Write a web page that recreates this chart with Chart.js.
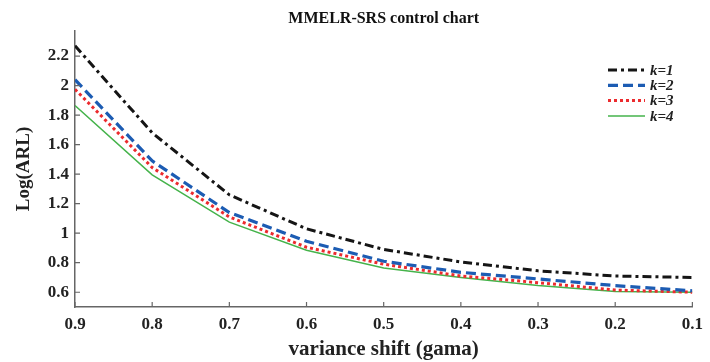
<!DOCTYPE html>
<html>
<head>
<meta charset="utf-8">
<script src="https://cdn.jsdelivr.net/npm/chart.js@4"></script>
<style>
  html, body { margin: 0; padding: 0; background: #fff; }
  #wrap { width: 710px; height: 362px; }
</style>
</head>
<body>
<div id="wrap"><canvas id="myChart" width="710" height="362"></canvas></div>
<script>
// variance shift values (x axis, drawn reversed)
const gamma = [0.9, 0.8, 0.7, 0.6, 0.5, 0.4, 0.3, 0.2, 0.1];
// Log(ARL) for each k
const k1 = [2.27, 1.68, 1.26, 1.03, 0.89, 0.805, 0.745, 0.71, 0.70];
const k2 = [2.04, 1.49, 1.14, 0.945, 0.81, 0.735, 0.69, 0.645, 0.61];
const k3 = [1.975, 1.445, 1.11, 0.905, 0.79, 0.71, 0.665, 0.615, 0.60];
const k4 = [1.865, 1.395, 1.075, 0.885, 0.765, 0.70, 0.645, 0.605, 0.60];
const seriesNames = ['k=1', 'k=2', 'k=3', 'k=4'];
const yTicks = [0.6, 0.8, 1, 1.2, 1.4, 1.6, 1.8, 2, 2.2];
const chartTitle = 'MMELR-SRS control chart';

const serif = "'Liberation Serif', 'Times New Roman', serif";

const toPoints = (vals) => gamma.map((g, i) => ({ x: g, y: vals[i] }));

const styles = [
  { color: '#151515', width: 3, dash: [9, 4, 3, 4] },
  { color: '#1c5cb3', width: 3.2, dash: [10, 5] },
  { color: '#ec2b2e', width: 3, dash: [3, 3] },
  { color: '#45b34b', width: 1.5, dash: [] },
];

const datasets = [k1, k2, k3, k4].map((vals, i) => ({
  label: seriesNames[i],
  data: toPoints(vals),
  borderColor: styles[i].color,
  borderWidth: styles[i].width,
  borderDash: styles[i].dash,
  pointRadius: 0,
  tension: 0,
  fill: false,
}));

// title over the plot area, inward tick marks, legend at top right
const extras = {
  id: 'extras',
  afterDraw(chart) {
    const { ctx, chartArea, scales } = chart;
    ctx.save();

    ctx.fillStyle = '#111';
    ctx.font = "bold 16px " + serif;
    ctx.textAlign = 'center';
    ctx.textBaseline = 'alphabetic';
    ctx.fillText(chartTitle, (chartArea.left + chartArea.right) / 2, 23);

    ctx.strokeStyle = '#666';
    ctx.lineWidth = 1.2;
    ctx.beginPath();
    scales.x.ticks.forEach(t => {
      const px = scales.x.getPixelForValue(t.value);
      ctx.moveTo(px, chartArea.bottom);
      ctx.lineTo(px, chartArea.bottom - 5);
    });
    scales.y.ticks.forEach(t => {
      const py = scales.y.getPixelForValue(t.value);
      ctx.moveTo(chartArea.left, py);
      ctx.lineTo(chartArea.left + 5, py);
    });
    ctx.stroke();

    // legend
    const x0 = 608, x1 = 645, y0 = 70, step = 15.3;
    chart.data.datasets.forEach((ds, i) => {
      const y = y0 + i * step;
      ctx.beginPath();
      ctx.strokeStyle = ds.borderColor;
      ctx.lineWidth = ds.borderWidth;
      ctx.setLineDash(ds.borderDash);
      ctx.moveTo(x0, y);
      ctx.lineTo(x1, y);
      ctx.stroke();
      ctx.setLineDash([]);
      ctx.fillStyle = '#222';
      ctx.font = "italic bold 15px " + serif;
      ctx.textBaseline = 'middle';
      ctx.textAlign = 'left';
      ctx.fillText(ds.label, 650, y + 1);
    });
    ctx.restore();
  }
};

new Chart(document.getElementById('myChart'), {
  type: 'line',
  data: { datasets: datasets },
  options: {
    responsive: false,
    animation: false,
    layout: { padding: { top: 31, right: 10, bottom: 0, left: 0 } },
    plugins: {
      legend: { display: false },
      tooltip: { enabled: false },
      title: { display: false },
    },
    scales: {
      x: {
        type: 'linear',
        reverse: true,
        min: 0.1,
        max: 0.9,
        grid: { display: false, drawTicks: false },
        border: { display: true, color: '#666', width: 1.5 },
        ticks: {
          stepSize: 0.1,
          padding: 7,
          color: '#222',
          font: { family: serif, size: 17, weight: 'bold' },
          maxRotation: 0,
          callback: (v) => Number(v).toFixed(1),
        },
        title: {
          display: true,
          text: 'variance shift (gama)',
          color: '#222',
          font: { family: serif, size: 21, weight: 'bold' },
          padding: { top: 0, bottom: 0 },
        },
        afterFit: (scale) => { scale.height = 55; },
      },
      y: {
        min: 0.5,
        max: 2.37,
        grid: { display: false, drawTicks: false },
        border: { display: true, color: '#666', width: 1.5 },
        afterBuildTicks: (scale) => { scale.ticks = yTicks.map(v => ({ value: v })); },
        ticks: {
          padding: 6,
          color: '#222',
          font: { family: serif, size: 17, weight: 'bold' },
          callback: (v) => String(Math.round(v * 10) / 10),
        },
        title: {
          display: true,
          text: 'Log(ARL)',
          color: '#222',
          font: { family: serif, size: 19, weight: 'bold' },
          padding: { top: 13, bottom: 0 },
        },
        afterFit: (scale) => { scale.width = 75; },
      },
    },
  },
  plugins: [extras],
});
</script>
</body>
</html>
